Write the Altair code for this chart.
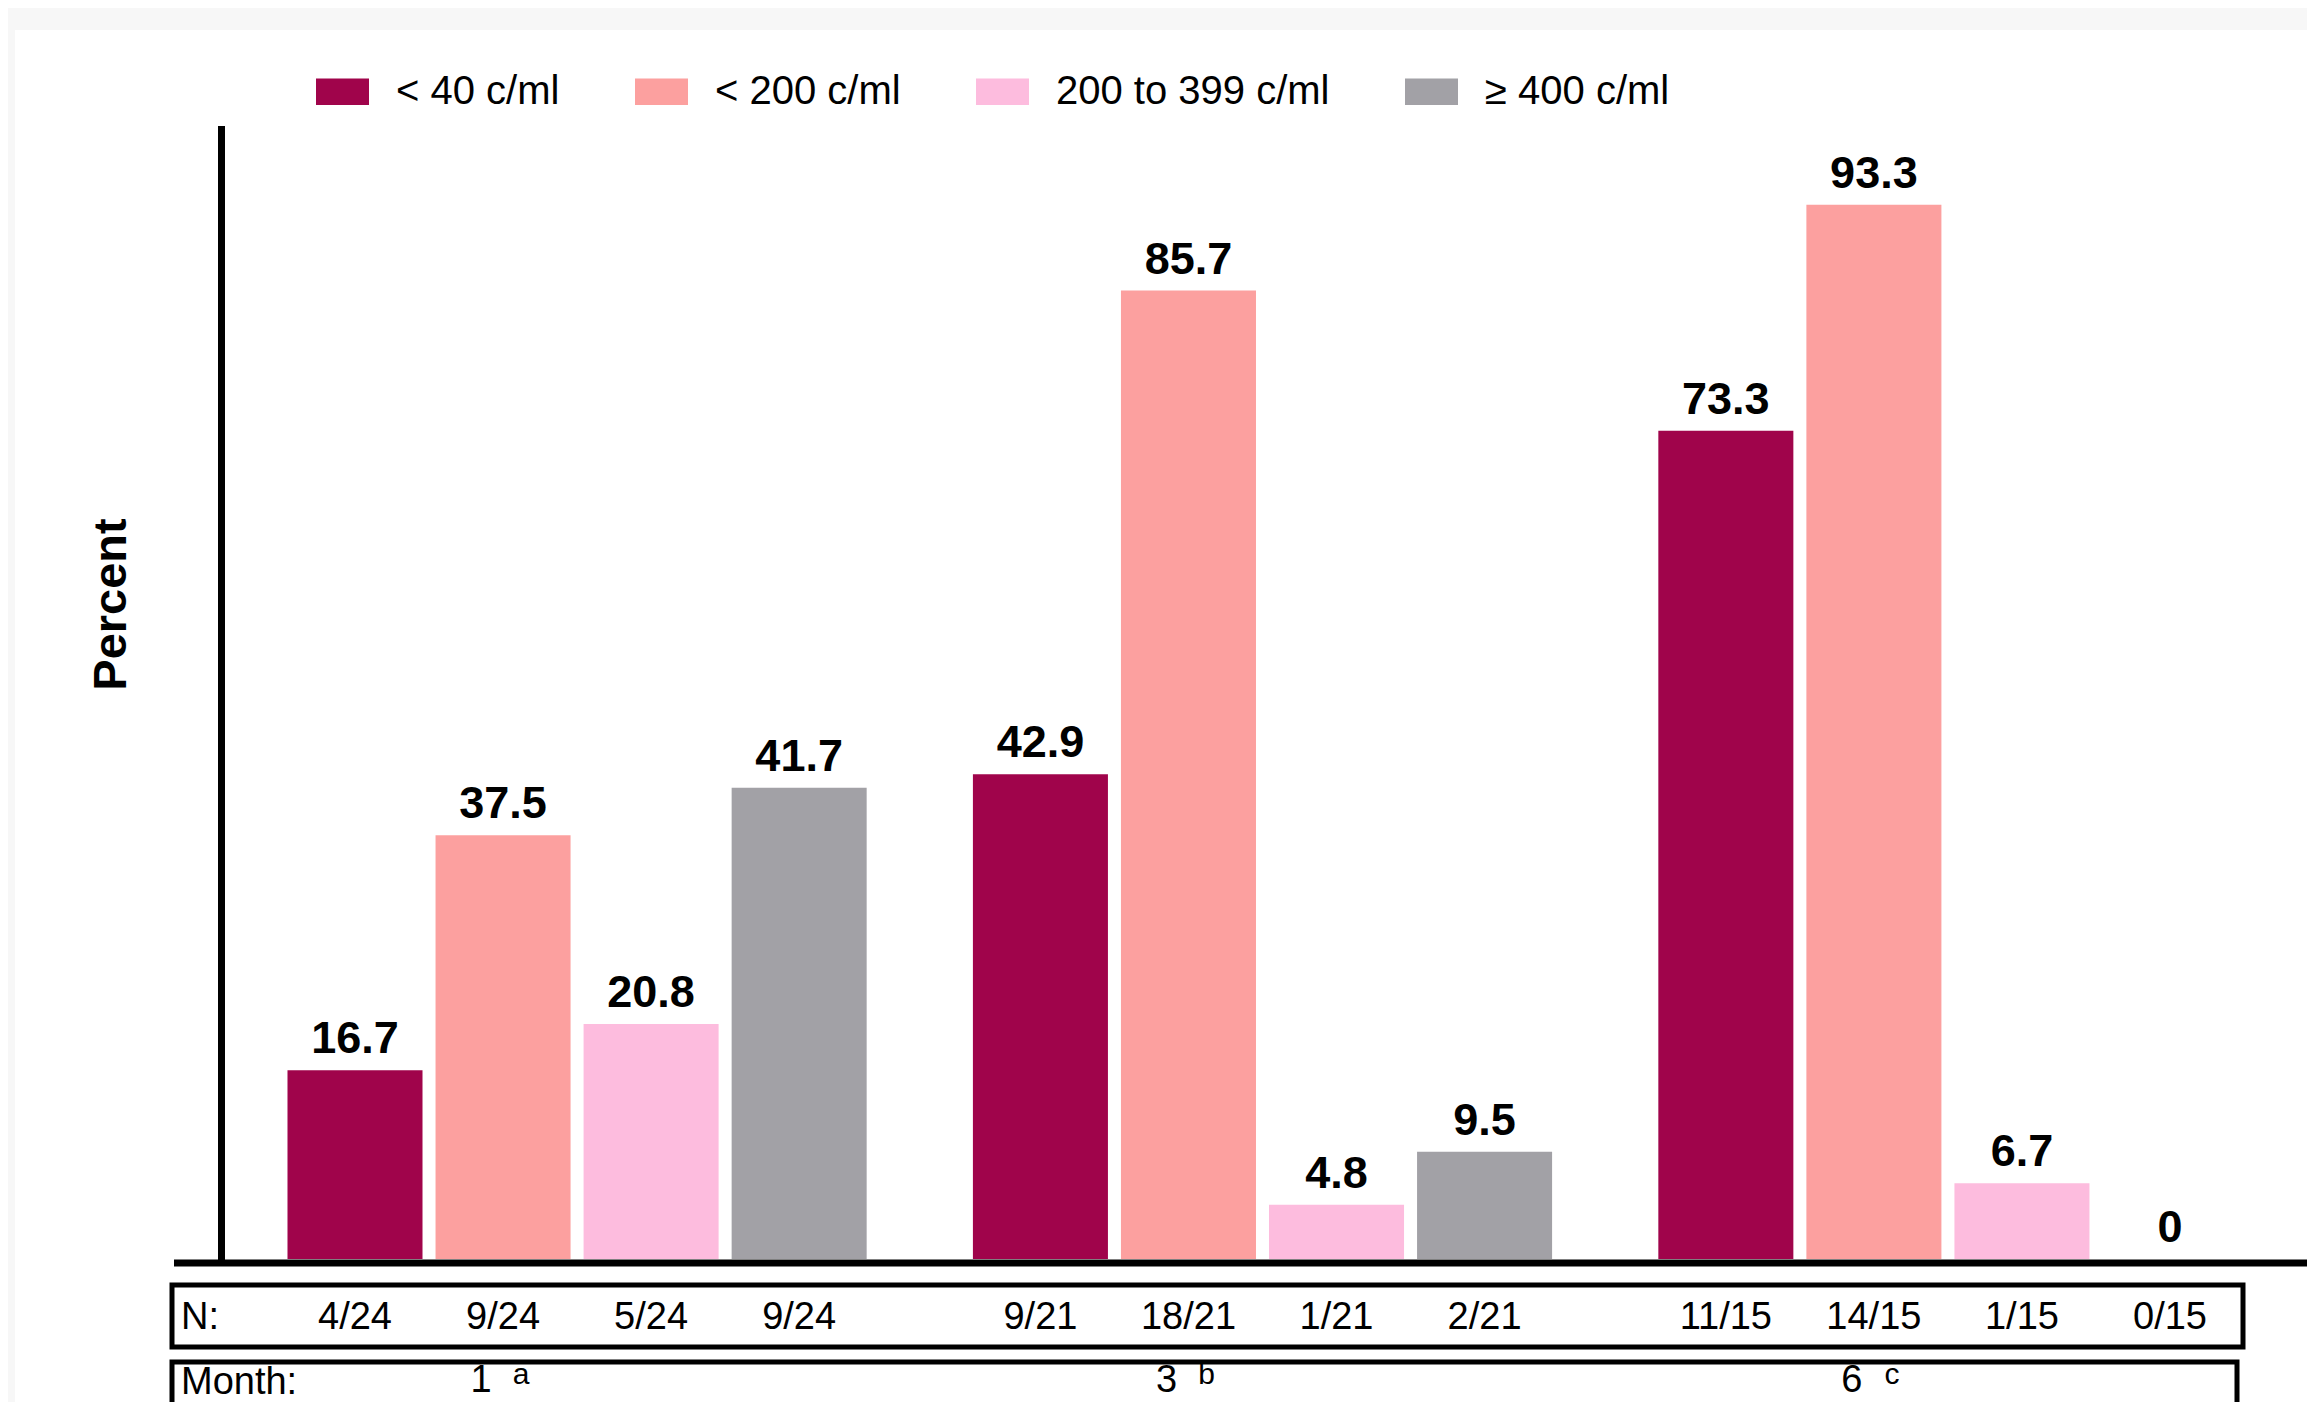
import altair as alt
import pandas as pd

# ---- data ----
months = ["1", "3", "6"]
month_sups = ["a", "b", "c"]
categories = ["< 40 c/ml", "< 200 c/ml", "200 to 399 c/ml", "≥ 400 c/ml"]
colors = ["#A0044B", "#FCA09F", "#FDBCDE", "#A2A1A6"]

pct_month1 = [16.7, 37.5, 20.8, 41.7]
pct_month3 = [42.9, 85.7, 4.8, 9.5]
pct_month6 = [73.3, 93.3, 6.7, 0]

n_month1 = ["4/24", "9/24", "5/24", "9/24"]
n_month3 = ["9/21", "18/21", "1/21", "2/21"]
n_month6 = ["11/15", "14/15", "1/15", "0/15"]

pct_all = [pct_month1, pct_month3, pct_month6]
n_all = [n_month1, n_month3, n_month6]

rows = []
for mi, m in enumerate(months):
    for ci, c in enumerate(categories):
        v = pct_all[mi][ci]
        rows.append({
            "month": m,
            "category": c,
            "pct": v,
            "label": "0" if v == 0 else f"{v:.1f}",
            "n": n_all[mi][ci],
        })
df = pd.DataFrame(rows)
month_df = pd.DataFrame({"month": months, "sup": month_sups})
one = pd.DataFrame({"k": [0]})

FONT = "Liberation Sans, Arial, Helvetica, sans-serif"

x_enc = alt.X("month:N", scale=alt.Scale(domain=months, paddingInner=0.136, paddingOuter=0.0875), axis=None)
xoff_enc = alt.XOffset("category:N", scale=alt.Scale(domain=categories, paddingInner=0.088, paddingOuter=0.044))
y_enc = alt.Y(
    "pct:Q",
    scale=alt.Scale(domain=[0, 100], nice=False, zero=True),
    axis=alt.Axis(
        title="Percent", labels=False, ticks=False, grid=False,
        domain=True, domainColor="black", domainWidth=7, domainCap="square",
        titleFontSize=47, titleFont=FONT, titleFontWeight="bold", titleColor="black",
        titleX=-110, titleY=475, titleAngle=270, titleAlign="center", titleBaseline="middle",
        zindex=1,
    ),
)

white_bg = alt.Chart(one).mark_rect(color="white").encode(
    x=alt.value(-206), x2=alt.value(2100), y=alt.value(-99), y2=alt.value(1300)
)

bars = alt.Chart(df).mark_bar().encode(
    x=x_enc,
    xOffset=xoff_enc,
    y=y_enc,
    color=alt.Color(
        "category:N",
        scale=alt.Scale(domain=categories, range=colors),
        sort=categories,
        legend=alt.Legend(
            title=None, orient="none", direction="horizontal",
            legendX=95, legendY=-64, padding=0,
            symbolType="M-1,-0.5H1V0.5H-1Z", symbolSize=2809, symbolStrokeWidth=0,
            symbolOpacity=1,
            labelFont=FONT, labelFontSize=40, labelColor="black", labelOffset=27,
            labelLimit=600, columnPadding=75,
        ),
    ),
)

values = alt.Chart(df).mark_text(
    font=FONT, fontSize=45, fontWeight="bold", color="black", baseline="alphabetic", dy=-17
).encode(x=x_enc, xOffset=xoff_enc, y=alt.Y("pct:Q"), text="label:N")

baseline = alt.Chart(one).mark_rule(color="black", strokeWidth=7).encode(
    x=alt.value(-47), x2=alt.value(2100), y=alt.value(1134)
)

n_box = alt.Chart(one).mark_rect(fillOpacity=0, stroke="black", strokeWidth=5).encode(
    x=alt.value(-49), x2=alt.value(2022), y=alt.value(1156), y2=alt.value(1218)
)
month_box = alt.Chart(one).mark_rect(fillOpacity=0, stroke="black", strokeWidth=5).encode(
    x=alt.value(-49), x2=alt.value(2016), y=alt.value(1233), y2=alt.value(1400)
)

n_title = alt.Chart(pd.DataFrame({"t": ["N:"]})).mark_text(
    font=FONT, fontSize=38, color="black", align="left", baseline="middle"
).encode(x=alt.value(-40), y=alt.value(1189), text="t:N")

n_text = alt.Chart(df).mark_text(
    font=FONT, fontSize=38, color="black", align="center", baseline="middle"
).encode(x=x_enc, xOffset=xoff_enc, y=alt.value(1189), text="n:N")

month_title = alt.Chart(pd.DataFrame({"t": ["Month:"]})).mark_text(
    font=FONT, fontSize=38, color="black", align="left", baseline="alphabetic"
).encode(x=alt.value(-40), y=alt.value(1265), text="t:N")

month_text = alt.Chart(month_df).mark_text(
    font=FONT, fontSize=38, color="black", align="center", baseline="alphabetic", dx=-96
).encode(x=x_enc, y=alt.value(1263), text="month:N")

month_sup = alt.Chart(month_df).mark_text(
    font=FONT, fontSize=30, color="black", align="center", baseline="alphabetic", dx=-56
).encode(x=x_enc, y=alt.value(1255), text="sup:N")

chart = alt.layer(
    white_bg, bars, values, baseline, n_box, month_box, n_title, n_text, month_title, month_text, month_sup
).properties(
    width=2083,
    height=1130,
    padding={"left": 213, "top": 121, "right": 3, "bottom": 143},
    autosize=alt.AutoSizeParams(type="none"),
    background="#f7f7f7",
).configure_view(stroke=None)

chart.save("out.html", embed_options={"renderer": "svg", "actions": False})
